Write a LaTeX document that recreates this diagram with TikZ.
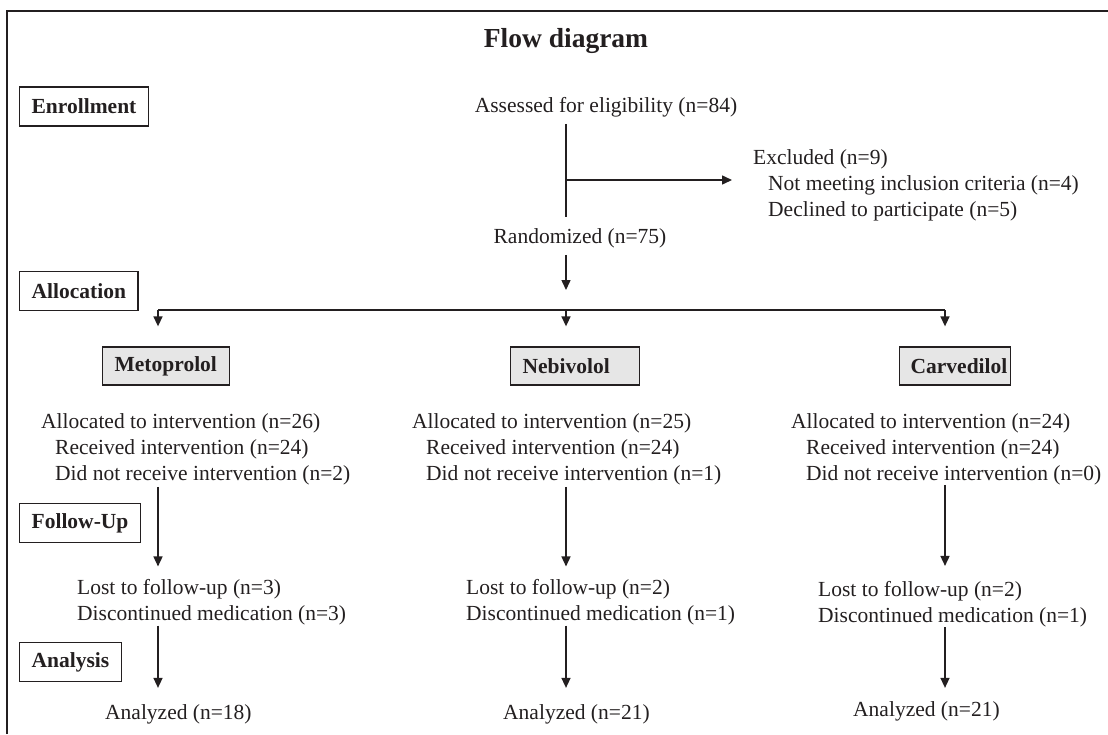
\documentclass[tikz,border=0pt]{standalone}
\usepackage{fontspec}
\setmainfont{Liberation Serif}
\usetikzlibrary{arrows.meta,calc}
\definecolor{ink}{HTML}{231F20}
\definecolor{boxgray}{HTML}{E6E6E6}
\begin{document}
\begin{tikzpicture}[x=1pt,y=-1pt,
  txt/.style={font=\fontsize{21.5}{26}\selectfont, inner sep=0pt, text=ink, align=left},
  stage/.style={draw=ink, line width=1.3pt, fill=white, font=\fontsize{21.5}{26}\selectfont\bfseries, text=ink, inner xsep=12pt, inner ysep=0pt, minimum height=39pt, anchor=west},
  drug/.style={draw=ink, line width=1.3pt, fill=boxgray, font=\fontsize{21.5}{26}\selectfont\bfseries, text=ink, inner xsep=0pt, inner ysep=0pt, minimum height=38pt, anchor=west, align=left},
  conn/.style={draw=ink, line width=1.5pt},
  arr/.style={conn, -{Triangle[length=10pt,width=9pt]}}
]
\useasboundingbox (0,0) rectangle (1108,734);
\fill[white] (0,0) rectangle (1108,734);
\draw[ink, line width=2.5pt] (7,734) -- (7,11) -- (1108,11);

% column positions
\coordinate (xA) at (158,0);
\coordinate (xB) at (566,0);
\coordinate (xC) at (945,0);

\node[txt, anchor=base, font=\fontsize{27.5}{32}\selectfont\bfseries] (title) at (566,47) {Flow diagram};

\node[stage] (enr) at (19,106.5) {Enrollment};
\node[stage] (alloc) at (19,291) {Allocation};
\node[stage] (fu) at (19,523) {Follow-Up};
\node[stage] (ana) at (19,662) {Analysis};

\node[txt, anchor=base] (assess) at (606,112) {Assessed for eligibility (n=84)};
\node[txt, anchor=west] (excl) at (753,185.5) {Excluded (n=9)\\\hspace*{15pt}Not meeting inclusion criteria (n=4)\\\hspace*{15pt}Declined to participate (n=5)};
\node[txt, anchor=base] (rand) at (580,243) {Randomized (n=75)};

\node[drug, text width=127pt] (meto) at (102,366) {\hspace*{12pt}Metoprolol};
\node[drug, text width=129pt] (nebi) at (510,366) {\hspace*{12pt}Nebivolol};
\node[drug, text width=111pt] (carv) at (899,366) {\hspace*{11pt}Carvedilol};

\node[txt, anchor=west] (allocA) at (41,449.5) {Allocated to intervention (n=26)\\\hspace*{14pt}Received intervention (n=24)\\\hspace*{14pt}Did not receive intervention (n=2)};
\node[txt, anchor=west] (allocB) at (412,449.5) {Allocated to intervention (n=25)\\\hspace*{14pt}Received intervention (n=24)\\\hspace*{14pt}Did not receive intervention (n=1)};
\node[txt, anchor=west] (allocC) at (791,449) {Allocated to intervention (n=24)\\\hspace*{15pt}Received intervention (n=24)\\\hspace*{15pt}Did not receive intervention (n=0)};

\node[txt, anchor=west] (lostA) at (77,602.5) {Lost to follow-up (n=3)\\Discontinued medication (n=3)};
\node[txt, anchor=west] (lostB) at (466,602.5) {Lost to follow-up (n=2)\\Discontinued medication (n=1)};
\node[txt, anchor=west] (lostC) at (818,604) {Lost to follow-up (n=2)\\Discontinued medication (n=1)};

\node[txt, anchor=base west] (anaA) at (105,719) {Analyzed (n=18)};
\node[txt, anchor=base west] (anaB) at (503,719) {Analyzed (n=21)};
\node[txt, anchor=base west] (anaC) at (853,716) {Analyzed (n=21)};

% enrollment trunk
\coordinate (branch) at (566,180);
\draw[conn, shorten <=7pt, shorten >=11pt] (assess.south -| xB) -- (rand.north -| xB);
\draw[arr, shorten >=21pt] (branch) -- (branch -| excl.west);

% randomization to allocation bar
\coordinate (barA) at (158,310);
\coordinate (barB) at (566,310);
\coordinate (barC) at (945,310);
\draw[arr, shorten <=7pt, shorten >=20pt] (rand.south -| xB) -- (barB);
\draw[conn] (barA) -- (barC);
\draw[arr, shorten >=20pt] (barA) -- (meto.north -| barA);
\draw[arr, shorten >=20pt] (barB) -- (nebi.north -| barB);
\draw[arr, shorten >=20pt] (barC) -- (carv.north -| barC);

% allocation to follow-up
\draw[arr, shorten <=1.5pt, shorten >=13pt] (allocA.south -| xA) -- (lostA.north -| xA);
\draw[arr, shorten <=1.5pt, shorten >=13pt] (allocB.south -| xB) -- (lostB.north -| xB);
\draw[arr, shorten <=0pt, shorten >=15pt] (allocC.south -| xC) -- (lostC.north -| xC);

% follow-up to analysis
\draw[arr, shorten >=16pt] (lostA.south -| xA) -- (anaA.north -| xA);
\draw[arr, shorten >=16pt] (lostB.south -| xB) -- (anaB.north -| xB);
\draw[arr, shorten >=13pt] (lostC.south -| xC) -- (anaC.north -| xC);
\end{tikzpicture}
\end{document}
